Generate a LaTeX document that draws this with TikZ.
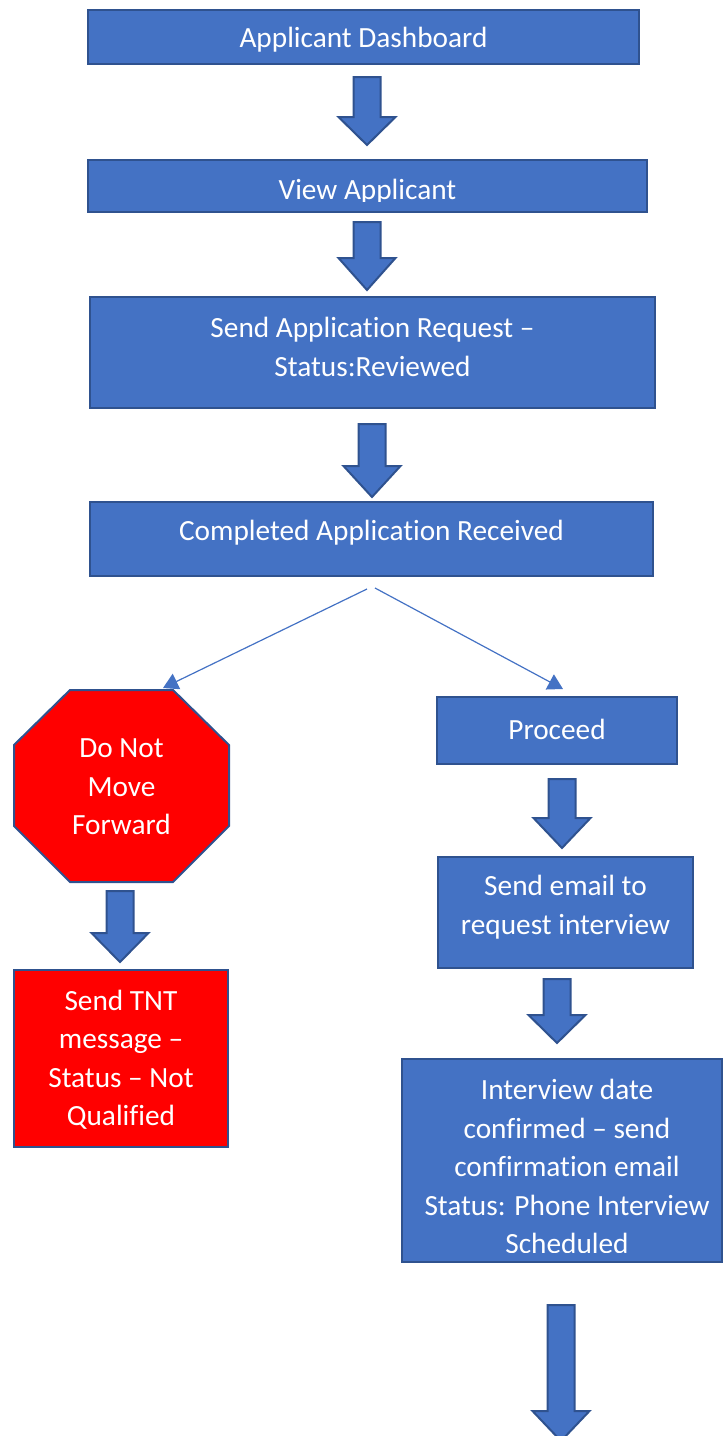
\documentclass[tikz,border=0pt]{standalone}
\usepackage{fontspec}
\setmainfont{Carlito}[Ligatures=NoCommon]
\usetikzlibrary{arrows.meta}
\definecolor{bfill}{HTML}{4472C4}
\definecolor{bline}{HTML}{2F528F}
\definecolor{rfill}{HTML}{FF0000}
\tikzset{
  box/.style={draw=bline, fill=bfill, line width=2pt, inner sep=0pt, outer sep=0pt, rectangle},
  redbox/.style={box, fill=rfill},
  txt/.style={text=white, align=center, font=\fontsize{29.3}{38.5}\selectfont, inner sep=0pt},
  barrow/.style={draw=bline, fill=bfill, line width=2pt, line join=miter},
  conn/.style={draw=bfill, line width=1.2pt, -{Triangle[width=17pt,length=15pt]}},
}
% block arrow: x-centre, shaft top, head start, tip
\newcommand\blockarr[4]{%
  \draw[barrow] ({#1-13.5},#2) -- ({#1+13.5},#2) -- ({#1+13.5},#3) -- ({#1+28.5},#3)
    -- (#1,#4) -- ({#1-28.5},#3) -- ({#1-13.5},#3) -- cycle;}
\begin{document}
\begin{tikzpicture}[x=1pt,y=-1pt]
\useasboundingbox (0,0) rectangle (723,1436);
\begin{scope}
\clip (0,0) rectangle (723,1436);

% main column
\node[box, minimum width=551pt, minimum height=54pt] (b1) at (363.5,37) {};
\node[txt] (t1) at (363.5,40) {Applicant Dashboard};
\blockarr{367}{77}{117}{145}

\node[box, minimum width=559pt, minimum height=52pt] (b2) at (367.5,186) {};
\begin{scope}
  \clip (88,160) rectangle (647,201);
  \node[txt] (t2) at (367.5,192) {View Applicant};
\end{scope}
\blockarr{367}{222}{258}{290}

\node[box, minimum width=565pt, minimum height=111pt] (b3) at (372.5,352.5) {};
\node[txt] (t3) at (372.5,347) {Send Application Request –\\Status:Reviewed};
\blockarr{372}{424}{466}{497}

\node[box, minimum width=563pt, minimum height=74pt] (b4) at (371.5,539) {};
\node[txt] (t4) at (371.5,533) {Completed Application Received};

% split connectors
\coordinate (s1) at (367,589);
\coordinate (s2) at (375,588);
\coordinate (e1) at (163,688);
\coordinate (e2) at (563,689);
\draw[conn] (s1) -- (e1);
\draw[conn] (s2) -- (e2);

% left branch
\draw[redbox] (70,690) -- (173,690) -- (229,745) -- (229,826) -- (173,882)
  -- (70,882) -- (14,826) -- (14,745) -- cycle;
\node[txt] (oct) at (121.5,787) {Do Not\\Move\\Forward};
\blockarr{120}{891}{933}{962}
\node[redbox, minimum width=214pt, minimum height=177pt] (r1) at (121,1058.5) {};
\node[txt] (tr1) at (121,1060) {Send TNT\\message –\\Status – Not\\Qualified};

% right branch
\node[box, minimum width=240pt, minimum height=67pt] (p1) at (557,730.5) {};
\node[txt] (tp1) at (557,729) {Proceed};
\blockarr{562}{779}{818}{848}
\node[box, minimum width=255pt, minimum height=111pt] (p2) at (565.5,912.5) {};
\node[txt] (tp2) at (565.5,907) {Send email to\\request interview};
\blockarr{557}{979}{1015}{1043}
\node[box, minimum width=320pt, minimum height=203pt] (p3) at (562,1160.5) {};
\begin{scope}
  \clip (402,1059) rectangle (723,1252);
  \node[txt, anchor=north] (tp3) at (567,1079) {Interview date\\confirmed – send\\confirmation email\\Status: Phone Interview\\Scheduled};
\end{scope}
\blockarr{561}{1305}{1411}{1441}
\end{scope}
\end{tikzpicture}
\end{document}
